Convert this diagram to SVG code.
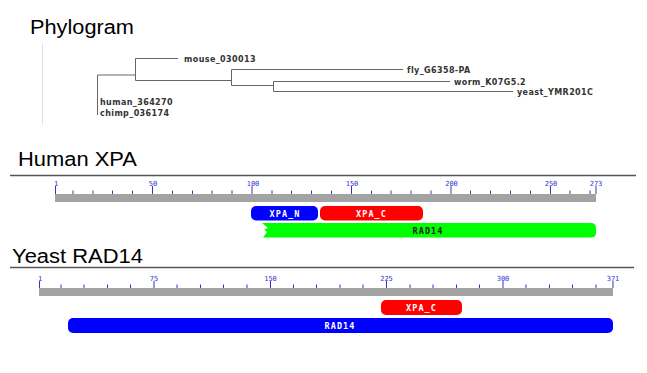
<svg xmlns="http://www.w3.org/2000/svg" width="647" height="373" viewBox="0 0 647 373">
<style>
.title{font-family:"Liberation Sans",Arial,sans-serif;font-size:20px;fill:#000}
.leaf{font-family:"DejaVu Sans",sans-serif;font-size:8px;font-weight:bold;fill:#333;letter-spacing:0.4px}
.branch{stroke:#666;stroke-width:1;fill:none}
.rule{stroke:#555;stroke-width:1.5}
.bar{fill:#a3a3a3}
.tick{stroke:#3333cc;stroke-width:1;fill:none}
.num{font-family:"DejaVu Sans Mono",monospace;font-size:7px;fill:#3333cc;text-anchor:middle}
.dom{font-family:"DejaVu Sans Mono",monospace;font-size:8.5px;font-weight:bold;letter-spacing:1.1px;text-anchor:middle}
</style>
<rect width="647" height="373" fill="#fff"/>

<g id="phylogram">
  <text class="title" x="30" y="34" textLength="104" lengthAdjust="spacingAndGlyphs">Phylogram</text>
  <line x1="42.5" y1="43" x2="42.5" y2="125" stroke="#e2e2e2" stroke-width="1"/>
  <g id="tree-connectors">
    <path class="branch" d="M97.5,75 V115 M97.5,75 H135.5" stroke-width="1.6"/>
    <path class="branch" d="M135.5,58.5 V80.5 M135.5,58.5 H178 M135.5,80.5 H231.5"/>
    <path class="branch" d="M231.5,69.5 V85.5 M231.5,69.5 H403 M231.5,85.5 H273.5"/>
    <path class="branch" d="M273.5,81.5 V91.5 M273.5,81.5 H450 M273.5,91.5 H513"/>
  </g>
  <g id="leaf-mouse"><text class="leaf" x="184" y="61.5">mouse_030013</text></g>
  <g id="leaf-fly"><text class="leaf" x="407" y="72.5">fly_G6358-PA</text></g>
  <g id="leaf-worm"><text class="leaf" x="454" y="84.5">worm_K07G5.2</text></g>
  <g id="leaf-yeast"><text class="leaf" x="517" y="94.5">yeast_YMR201C</text></g>
  <g id="leaf-human"><text class="leaf" x="100" y="104.5">human_364270</text></g>
  <g id="leaf-chimp"><text class="leaf" x="100" y="116">chimp_036174</text></g>
</g>

<g id="human-xpa">
  <text class="title" x="18" y="166" textLength="119" lengthAdjust="spacingAndGlyphs">Human XPA</text>
  <line class="rule" x1="10" y1="175.5" x2="636" y2="175.5"/>
  <rect class="bar" x="55" y="194" width="541" height="8"/>
  <path class="tick" d="M55.5,186 V194 M152.5,186 V194 M252,186 V194 M351.5,186 V194 M451,186 V194 M550.5,186 V194 M596,186 V194
    M73,190.5 V194 M93,190.5 V194 M112.5,190.5 V194 M132.5,190.5 V194 M172.5,190.5 V194 M192.5,190.5 V194 M212,190.5 V194 M232,190.5 V194
    M272,190.5 V194 M291.5,190.5 V194 M311.5,190.5 V194 M331.5,190.5 V194 M371.5,190.5 V194 M391,190.5 V194 M411,190.5 V194 M431,190.5 V194
    M470.5,190.5 V194 M490.5,190.5 V194 M510.5,190.5 V194 M530.5,190.5 V194 M570,190.5 V194 M590,190.5 V194"/>
  <text class="num" x="56" y="186">1</text>
  <text class="num" x="153" y="186">50</text>
  <text class="num" x="253" y="186">100</text>
  <text class="num" x="352" y="186">150</text>
  <text class="num" x="451.5" y="186">200</text>
  <text class="num" x="551" y="186">250</text>
  <text class="num" x="596" y="186">273</text>
  <g id="h-xpa-n">
    <rect x="251" y="206" width="67" height="14.5" rx="5" fill="#0000ff"/>
    <text class="dom" x="285" y="216.5" fill="#fff">XPA_N</text>
  </g>
  <g id="h-xpa-c">
    <rect x="320" y="206" width="103" height="14.5" rx="5" fill="#ff0000"/>
    <text class="dom" x="371.5" y="216.5" fill="#fff">XPA_C</text>
  </g>
  <g id="h-rad14">
    <path d="M262,223 H591 Q596,223 596,228 V232.5 Q596,237.5 591,237.5 H263 L267,232 L264,229.5 L268,228 Z" fill="#00ff00"/>
    <text class="dom" x="428" y="233.5" fill="#222">RAD14</text>
  </g>
</g>

<g id="yeast-rad14">
  <text class="title" x="12" y="263" textLength="131" lengthAdjust="spacingAndGlyphs">Yeast RAD14</text>
  <line class="rule" x1="10" y1="267.5" x2="634" y2="267.5"/>
  <rect class="bar" x="39" y="288" width="574" height="8"/>
  <path class="tick" d="M39.5,281 V288 M154,281 V288 M270.5,281 V288 M386.5,281 V288 M503,281 V288 M613,281 V288
    M61,284.5 V288 M84,284.5 V288 M107.5,284.5 V288 M130.5,284.5 V288 M177,284.5 V288 M200.5,284.5 V288 M223.5,284.5 V288 M247,284.5 V288
    M293.5,284.5 V288 M316.5,284.5 V288 M340,284.5 V288 M363,284.5 V288 M410,284.5 V288 M433,284.5 V288 M456.5,284.5 V288 M479.5,284.5 V288
    M526,284.5 V288 M549.5,284.5 V288 M572.5,284.5 V288 M596,284.5 V288"/>
  <text class="num" x="40" y="281">1</text>
  <text class="num" x="154" y="281">75</text>
  <text class="num" x="270.5" y="281">150</text>
  <text class="num" x="386.5" y="281">225</text>
  <text class="num" x="503" y="281">300</text>
  <text class="num" x="613" y="281">371</text>
  <g id="y-xpa-c">
    <rect x="381" y="300" width="81" height="15" rx="5" fill="#ff0000"/>
    <text class="dom" x="421.5" y="311" fill="#fff">XPA_C</text>
  </g>
  <g id="y-rad14">
    <rect x="68" y="318" width="545" height="15" rx="5" fill="#0000ff"/>
    <text class="dom" x="340" y="329" fill="#fff">RAD14</text>
  </g>
</g>
</svg>
